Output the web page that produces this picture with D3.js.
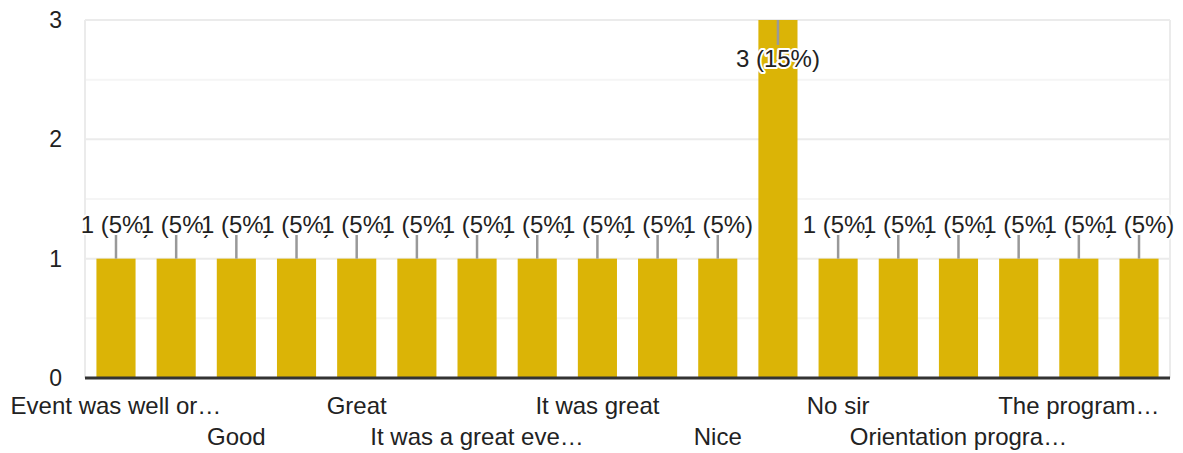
<!DOCTYPE html>
<html>
<head>
<meta charset="utf-8">
<script src="https://cdn.jsdelivr.net/npm/d3@7"></script>
<style>
  body { margin: 0; background: #fff; }
  svg text { font-family: "Liberation Sans", Arial, sans-serif; fill: #222; }
</style>
</head>
<body>
<svg width="1183" height="453"></svg>
<script>
// **** Data ****
var answers = ['Event was well or…', 'Excellent', 'Good', 'Good program', 'Great', 'Informative',
    'It was a great eve…', 'It was good', 'It was great', 'It was nice', 'Nice', 'No',
    'No sir', 'Nothing', 'Orientation progra…', 'Superb', 'The program…', 'Very good'];
var counts = [1, 1, 1, 1, 1, 1, 1, 1, 1, 1, 1, 3, 1, 1, 1, 1, 1, 1];
var percents = [5, 5, 5, 5, 5, 5, 5, 5, 5, 5, 5, 15, 5, 5, 5, 5, 5, 5];
var yTicks = [0, 1, 2, 3];
var yMinor = [0.5, 1.5, 2.5];

// **** Scales ****
var svg = d3.select('svg');
var plotLeft = 85, plotRight = 1170, plotTop = 20, plotBottom = 378;

var xScale = d3.scaleBand()
    .domain(answers).range([plotLeft, plotRight])
    .paddingInner(0.35).paddingOuter(0.19);

var yScale = d3.scaleLinear()
    .domain([0, 3]).range([plotBottom, plotTop]);

// gridlines
svg.selectAll('.minor')
    .data(yMinor).enter().append('line')
    .attr('x1', plotLeft).attr('x2', plotRight)
    .attr('y1', function(d){ return yScale(d); })
    .attr('y2', function(d){ return yScale(d); })
    .style('stroke', '#f5f5f5').style('stroke-width', 2);

svg.selectAll('.major')
    .data(yTicks.slice(1)).enter().append('line')
    .attr('x1', plotLeft).attr('x2', plotRight)
    .attr('y1', function(d){ return yScale(d); })
    .attr('y2', function(d){ return yScale(d); })
    .style('stroke', '#ebebeb').style('stroke-width', 2);

// side frame lines
svg.selectAll('.frame')
    .data([plotLeft, plotRight]).enter().append('line')
    .attr('x1', function(d){ return d; }).attr('x2', function(d){ return d; })
    .attr('y1', plotTop).attr('y2', plotBottom)
    .style('stroke', '#ebebeb').style('stroke-width', 2);

// y axis labels
svg.selectAll('.ylabel')
    .data(yTicks).enter().append('text')
    .attr('x', 62)
    .attr('y', function(d){ return yScale(d); })
    .attr('dy', '0.35em')
    .attr('text-anchor', 'end')
    .style('font-size', '23px')
    .text(function(d){ return d; });

// bars
svg.selectAll('.bar')
    .data(answers).enter().append('rect')
    .attr('x', function(d){ return xScale(d); })
    .attr('y', function(d, i){ return yScale(counts[i]); })
    .attr('width', xScale.bandwidth())
    .attr('height', function(d, i){ return yScale(0) - yScale(counts[i]); })
    .style('fill', '#dbb406');

// baseline
svg.append('line')
    .attr('x1', plotLeft).attr('x2', plotRight)
    .attr('y1', plotBottom).attr('y2', plotBottom)
    .style('stroke', '#333').style('stroke-width', 3);

// leader lines and value labels
var maxCount = d3.max(counts);
function inside(i) { return counts[i] === maxCount; }
function cx(d) { return xScale(d) + xScale.bandwidth() / 2; }

svg.selectAll('.leader')
    .data(answers).enter().append('line')
    .attr('x1', cx).attr('x2', cx)
    .attr('y1', function(d, i){ return yScale(counts[i]); })
    .attr('y2', function(d, i){ return yScale(counts[i]) + (inside(i) ? 25 : -25); })
    .style('stroke', '#999').style('stroke-width', 2.5);

svg.selectAll('.value')
    .data(answers).enter().append('text')
    .attr('x', cx)
    .attr('y', function(d, i){ return yScale(counts[i]) + (inside(i) ? 47 : -26); })
    .attr('text-anchor', 'middle')
    .style('font-size', '24px')
    .style('stroke', '#fff').style('stroke-width', 4)
    .style('stroke-linejoin', 'round')
    .style('paint-order', 'stroke')
    .text(function(d, i){ return counts[i] + ' (' + percents[i] + '%)'; });

// x axis labels, every other one, staggered in two rows
svg.selectAll('.xlabel')
    .data(answers.filter(function(d, i){ return i % 2 === 0; }))
    .enter().append('text')
    .attr('x', cx)
    .attr('y', function(d, i){ return i % 2 === 0 ? 414 : 445; })
    .attr('text-anchor', 'middle')
    .style('font-size', '24px')
    .text(function(d){ return d; });
</script>
</body>
</html>
